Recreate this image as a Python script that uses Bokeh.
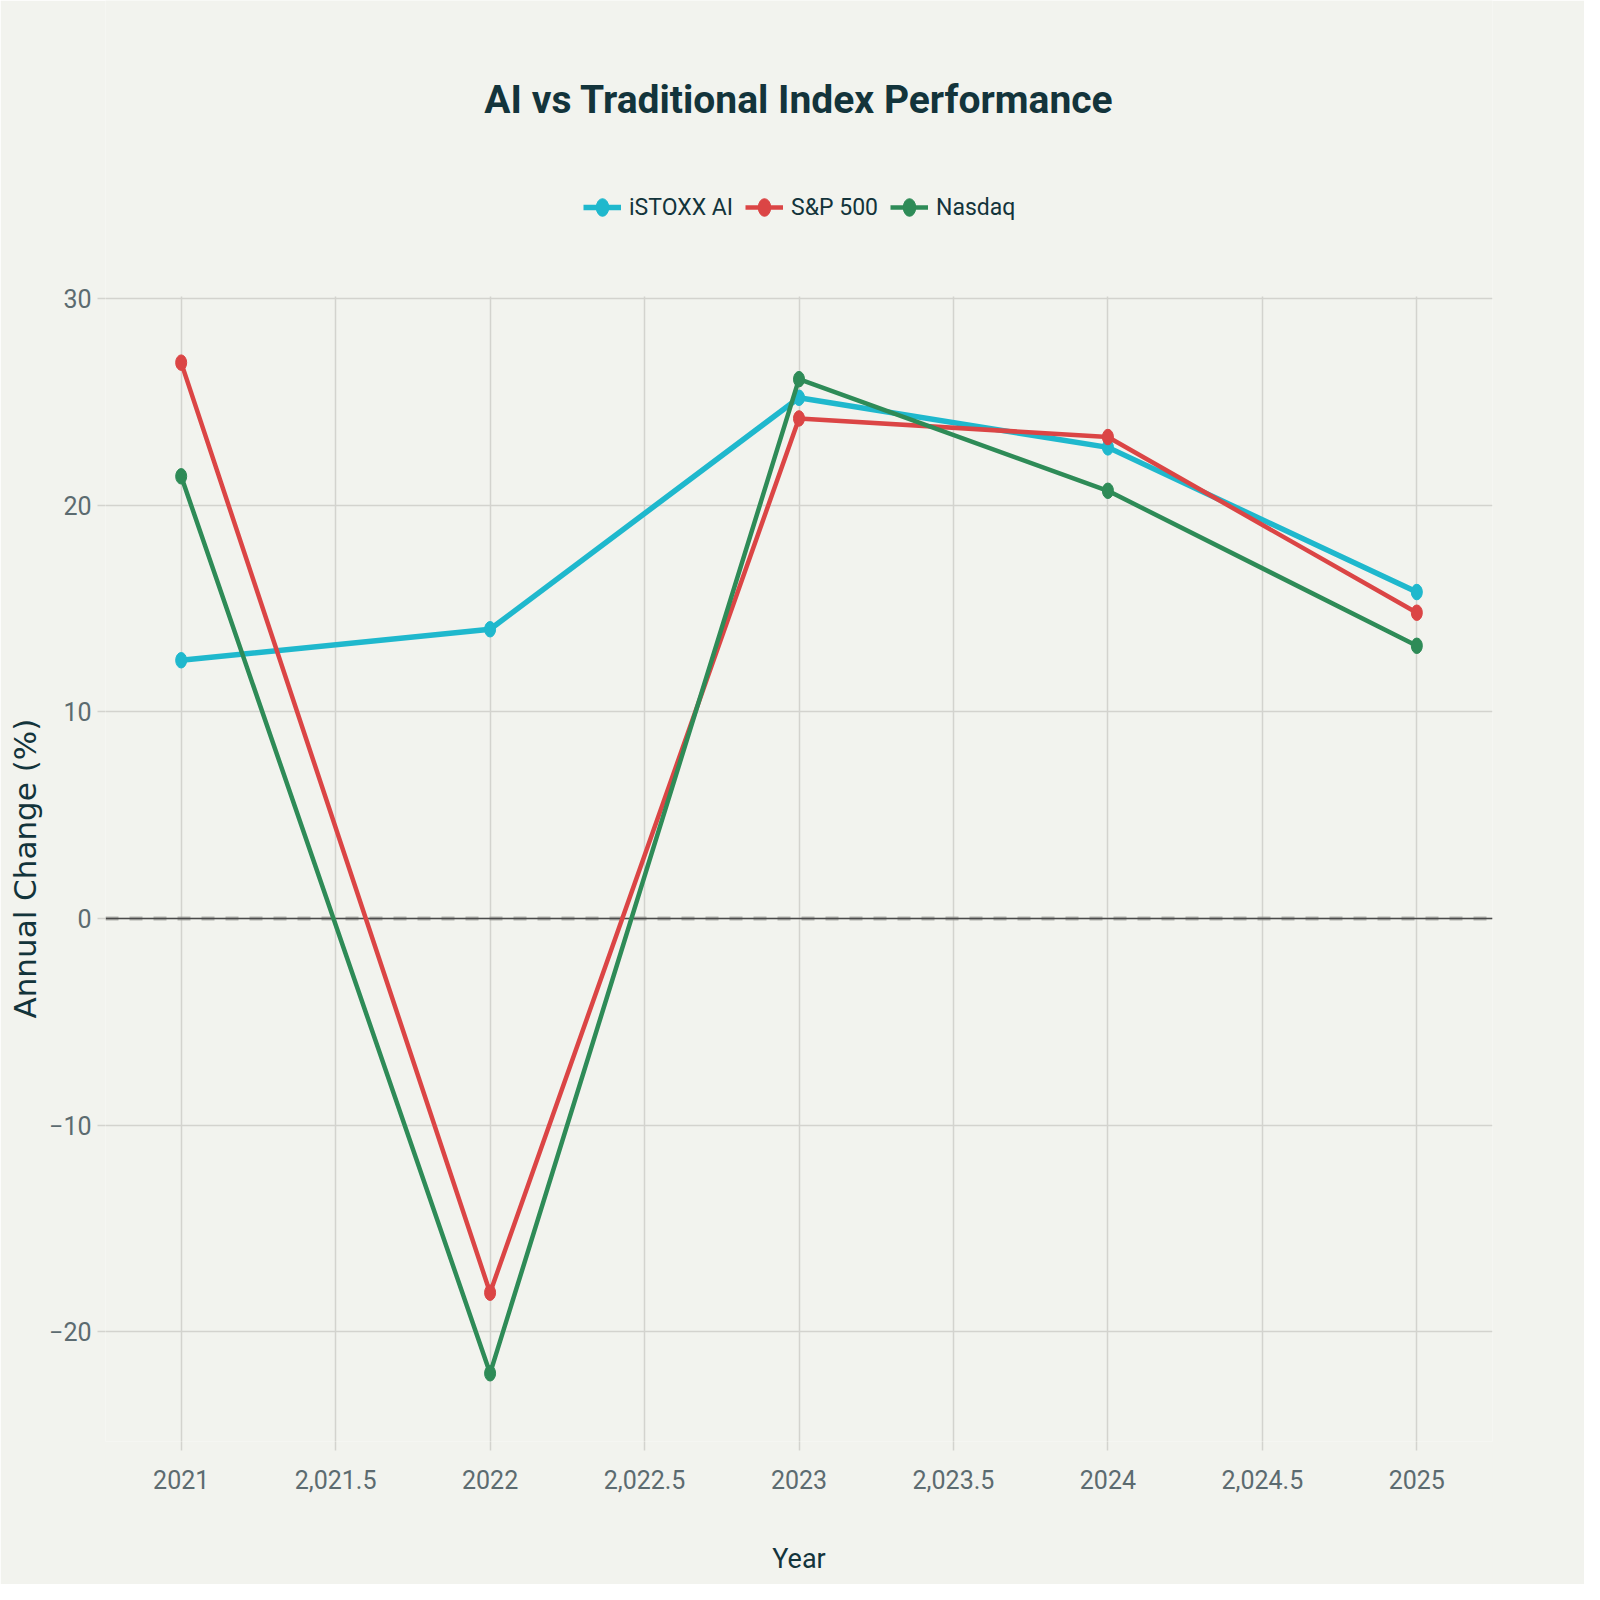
from bokeh.plotting import figure
from bokeh.models import Range1d, Span, Legend, LegendItem, FixedTicker, ColumnDataSource, Label, Title
from bokeh.embed import file_html
from bokeh.resources import INLINE

# ---- data ----
years = [2021, 2022, 2023, 2024, 2025]
istoxx_ai = [12.5, 14.0, 25.2, 22.8, 15.8]
sp500 = [26.9, -18.1, 24.2, 23.3, 14.8]
nasdaq = [21.4, -22.0, 26.1, 20.7, 13.2]

series_names = ["iSTOXX AI", "S&P 500", "Nasdaq"]
series_values = [istoxx_ai, sp500, nasdaq]
series_colors = ["#1FB8CD", "#DB4545", "#2E8B57"]
series_widths = [5.5, 4.5, 4.5]

x_ticks = [2021, 2021.5, 2022, 2022.5, 2023, 2023.5, 2024, 2024.5, 2025]
x_tick_labels = ["2021", "2,021.5", "2022", "2,022.5", "2023", "2,023.5", "2024", "2,024.5", "2025"]
y_ticks = [-20, -10, 0, 10, 20, 30]
y_tick_labels = ["\u221220", "\u221210", "0", "10", "20", "30"]

title_text = "AI vs Traditional Index Performance"
x_title = "Year"
y_title = "Annual Change (%)"

BG = "#F2F3EE"
DARK = "#13343B"
TICKC = "#5C6B70"
GRID = "#D3D3CE"
FONT = "Roboto"

# layout (pixels within the figure)
W, H = 1584, 1584
BL, BR, BB = 99, 92, 143
HEADER = 296                 # space above the plotting area for title + legend
PLOT_H = H - BB - HEADER     # height of the data area
X0, X1 = 2020.755, 2025.245
Y0, Y1 = -25.3, 30.1
PX_PER_Y = PLOT_H / (Y1 - Y0)
Y_TOP = Y1 + HEADER / PX_PER_Y   # frame extends up over the header area

p = figure(
    width=W, height=H,
    output_backend="svg", toolbar_location=None,
    x_range=Range1d(X0, X1), y_range=Range1d(Y0, Y_TOP),
    min_border_left=BL, min_border_right=BR, min_border_top=0, min_border_bottom=BB,
    background_fill_color=BG, border_fill_color=BG, outline_line_color=None,
)

# grid
p.xgrid.ticker = FixedTicker(ticks=x_ticks)
p.ygrid.ticker = FixedTicker(ticks=y_ticks)
for g in (p.xgrid, p.ygrid):
    g.grid_line_color = GRID
    g.grid_line_width = 1.5
p.xgrid.cross_bounds = (Y0, Y1)

# axes
p.xaxis.ticker = FixedTicker(ticks=x_ticks)
p.xaxis.major_label_overrides = dict(zip(x_ticks, x_tick_labels))
p.yaxis.ticker = FixedTicker(ticks=y_ticks)
p.yaxis.major_label_overrides = dict(zip(y_ticks, y_tick_labels))
p.yaxis.bounds = (Y0, Y1)
for ax in (p.xaxis, p.yaxis):
    ax.axis_line_color = None
    ax.major_tick_line_color = GRID
    ax.major_tick_line_width = 1.5
    ax.major_tick_in = 0
    ax.minor_tick_line_color = None
    ax.major_label_text_font = FONT
    ax.major_label_text_font_size = "25px"
    ax.major_label_text_color = TICKC
    ax.axis_label_text_font_style = "normal"
    ax.axis_label_text_color = DARK

p.xaxis.major_tick_out = 9
p.xaxis.major_label_standoff = 19
p.xaxis.axis_label = x_title
p.xaxis.axis_label_text_font = FONT
p.xaxis.axis_label_text_font_size = "27px"
p.xaxis.axis_label_standoff = 51

p.yaxis.major_tick_out = 8
p.yaxis.major_label_standoff = 6

# y-axis title as a side title, positioned along the data area
p.add_layout(Title(text=y_title, text_font="DejaVu Sans", text_font_size="31px",
                   text_font_style="normal", text_color=DARK,
                   align="left", offset=423, standoff=8), "left")

# zero line: dashed grey band with dark line on top
p.add_layout(Span(location=0, dimension="width", line_color="#9A9A96", line_width=4,
                  line_alpha=0.7, line_dash="13 11", level="underlay"))
p.add_layout(Span(location=0, dimension="width", line_color="#4A4A4A", line_width=1.5,
                  level="underlay"))

items = []
for name, vals, col, lw in zip(series_names, series_values, series_colors, series_widths):
    src = ColumnDataSource(dict(x=years, y=vals))
    lr = p.line("x", "y", source=src, line_color=col, line_width=lw)
    er = p.ellipse("x", "y", source=src, width=11, height=15.5,
                   width_units="screen", height_units="screen",
                   fill_color=col, line_color=col)
    items.append(LegendItem(label=name, renderers=[lr, er]))

# title, in the header area
p.add_layout(Label(x=(X0 + X1) / 2, y=Y_TOP - 99 / PX_PER_Y,
                   text=title_text, text_font=FONT, text_font_size="39px",
                   text_font_style="bold", text_color=DARK,
                   text_align="center", text_baseline="middle"))

# legend, in the header area (location measured from the frame's bottom-left)
FRAME_W = W - BL - BR
FRAME_H = H - BB
LEG_W, LEG_H = 439, 35
legend = Legend(items=items, orientation="horizontal",
                location=(FRAME_W / 2 - LEG_W / 2 + 1, FRAME_H - 203 - LEG_H / 2),
                background_fill_alpha=0, border_line_color=None,
                label_text_font=FONT, label_text_font_size="23px", label_text_color=DARK,
                glyph_width=38, glyph_height=22, label_standoff=8, spacing=12,
                padding=4, margin=0)
p.add_layout(legend, "center")

open("out.html", "w").write(file_html(p, INLINE))
